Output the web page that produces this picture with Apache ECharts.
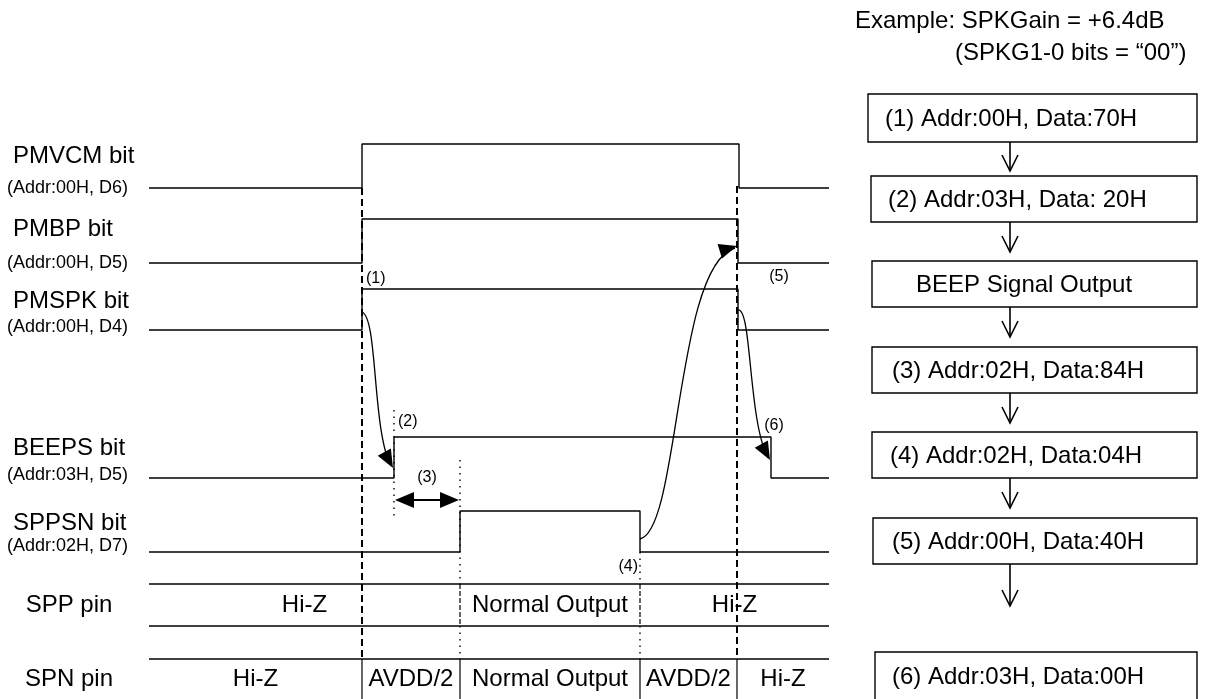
<!DOCTYPE html>
<html>
<head>
<meta charset="utf-8">
<script src="https://cdn.jsdelivr.net/npm/echarts@6/dist/echarts.min.js"></script>
<style>
  html, body { margin: 0; background: #fff; }
  #main { width: 1211px; height: 699px; }
</style>
</head>
<body>
<div id="main"></div>
<script>
// 时序图：横轴为时间（按画面读出），每个信号一行
const tBegin = 149
const tEnd = 829

// 各信号的跳变 [时刻, 电平]
const pmvcm = [[149, 0], [362, 1], [739, 0], [829, 0]]
const pmbp = [[149, 0], [362, 1], [738, 0], [829, 0]]
const pmspk = [[149, 0], [362, 1], [738, 0], [829, 0]]
const beeps = [[149, 0], [394, 1], [771, 0], [829, 0]]
const sppsn = [[149, 0], [460, 1], [640, 0], [829, 0]]

// 输出引脚状态：分段边界和状态名
const sppBounds = [149, 460, 640, 829]
const sppStates = ['Hi-Z', 'Normal Output', 'Hi-Z']
const spnBounds = [149, 362, 460, 640, 737, 829]
const spnStates = ['Hi-Z', 'AVDD/2', 'Normal Output', 'AVDD/2', 'Hi-Z']

// 时刻标记
const dashedTimes = [362, 737]
const markTimes = ['(1)', '(2)', '(3)', '(4)', '(5)', '(6)']

// 右侧流程
const steps = [
  '(1) Addr:00H, Data:70H',
  '(2) Addr:03H, Data: 20H',
  'BEEP Signal Output',
  '(3) Addr:02H, Data:84H',
  '(4) Addr:02H, Data:04H',
  '(5) Addr:00H, Data:40H',
  '(6) Addr:03H, Data:00H'
]

// ---- 版面 ----
const FONT = '"Liberation Sans", Arial, sans-serif'
const BIG = 24
const rows = [
  { name: 'PMVCM bit', sub: '(Addr:00H, D6)', low: 188, high: 144, data: pmvcm, nameY: 156 },
  { name: 'PMBP bit', sub: '(Addr:00H, D5)', low: 263, high: 219, data: pmbp, nameY: 229 },
  { name: 'PMSPK bit', sub: '(Addr:00H, D4)', low: 330, high: 289, data: pmspk, nameY: 301, subY: 327 },
  { name: 'BEEPS bit', sub: '(Addr:03H, D5)', low: 478, high: 437, data: beeps, nameY: 448, subY: 475 },
  { name: 'SPPSN bit', sub: '(Addr:02H, D7)', low: 552, high: 511, data: sppsn, nameY: 523, subY: 546 }
]
const spp = { top: 584, bottom: 626 }
const spn = { top: 659, bottom: 699 }

const black = '#000'
const lineW = 1.4

const series = []

// 波形
rows.forEach(r => {
  series.push({
    type: 'line',
    step: 'end',
    symbol: 'none',
    silent: true,
    lineStyle: { color: black, width: lineW },
    data: r.data.map(([t, v]) => [t, v ? r.high : r.low])
  })
})

function seg(points, style, z) {
  series.push({
    type: 'line',
    symbol: 'none',
    silent: true,
    z: z || 2,
    lineStyle: Object.assign({ color: black, width: lineW }, style),
    data: points
  })
}

// SPP / SPN 总线行
seg([[tBegin, spp.top], [tEnd, spp.top]])
seg([[tBegin, spp.bottom], [tEnd, spp.bottom]])
seg([[tBegin, spn.top], [tEnd, spn.top]])
sppBounds.slice(1, -1).forEach(t => seg([[t, spp.top], [t, spp.bottom]], { type: [5, 2], width: 1.2 }))
spnBounds.slice(1, -1).forEach(t => seg([[t, spn.top], [t, spn.bottom]], { width: 1.2 }))

// 粗虚线
seg([[dashedTimes[0], 188], [dashedTimes[0], spn.top]], { type: [7, 4], width: 2 }, 3)
seg([[dashedTimes[1], 186], [dashedTimes[1], spn.top]], { type: [7, 4], width: 2 }, 3)

// 点线
const dotted = { type: [1.5, 5], width: 1.4 }
seg([[beeps[1][0], 410], [beeps[1][0], 520]], dotted)
seg([[sppsn[1][0], 460], [sppsn[1][0], spp.top]], dotted)
seg([[sppsn[1][0], spp.bottom], [sppsn[1][0], spn.top]], dotted)
seg([[sppsn[2][0], 552], [sppsn[2][0], spp.top]], dotted)
seg([[sppsn[2][0], spp.bottom], [sppsn[2][0], spn.top]], dotted)

// 状态文字
function stateLabels(bounds, states, y) {
  return states.map((s, i) => [(bounds[i] + bounds[i + 1]) / 2, y, s])
}
series.push({
  type: 'scatter',
  symbolSize: 0,
  silent: true,
  z: 6,
  itemStyle: { opacity: 1 },
  label: {
    show: true,
    position: 'inside',
    formatter: p => p.value[2],
    color: black,
    opacity: 1,
    fontSize: BIG,
    fontFamily: FONT
  },
  data: stateLabels(sppBounds, sppStates, 605).concat(stateLabels(spnBounds, spnStates, 679))
})

// 因果箭头（三次贝塞尔）
const curves = [
  [[362, 312], [378, 318], [372, 430], [391, 466]],
  [[640, 539], [680, 530], [675, 265], [735, 248]],
  [[738, 310], [752, 308], [748, 420], [768, 458]]
]
function head(tip, from, len, hw) {
  const dx = tip[0] - from[0]
  const dy = tip[1] - from[1]
  const d = Math.hypot(dx, dy)
  const ux = dx / d, uy = dy / d
  const bx = tip[0] - ux * len, by = tip[1] - uy * len
  return [tip, [bx - uy * hw, by + ux * hw], [bx + uy * hw, by - ux * hw]]
}
series.push({
  type: 'custom',
  silent: true,
  z: 4,
  data: curves.map((c, i) => i),
  renderItem: (params, api) => {
    const [p0, p1, p2, p3] = curves[params.dataIndex].map(p => api.coord(p))
    return {
      type: 'group',
      children: [
        {
          type: 'bezierCurve',
          shape: { x1: p0[0], y1: p0[1], cpx1: p1[0], cpy1: p1[1], cpx2: p2[0], cpy2: p2[1], x2: p3[0], y2: p3[1] },
          style: { stroke: black, fill: null, lineWidth: 1.3 }
        },
        {
          type: 'polygon',
          shape: { points: head([p3[0] + 2, p3[1] + 2 * Math.sign(p3[1] - p2[1])], p2, 18, 7.5) },
          style: { fill: black }
        }
      ]
    }
  }
})

// (3) 双向箭头
series.push({
  type: 'custom',
  silent: true,
  z: 4,
  data: [[beeps[1][0], sppsn[1][0], 500]],
  renderItem: (params, api) => {
    const a = api.coord([api.value(0), api.value(2)])
    const b = api.coord([api.value(1), api.value(2)])
    return {
      type: 'group',
      children: [
        { type: 'line', shape: { x1: a[0] + 10, y1: a[1], x2: b[0] - 10, y2: b[1] }, style: { stroke: black, lineWidth: 2 } },
        { type: 'polygon', shape: { points: head([a[0] + 1, a[1]], [b[0], b[1]], 19, 8) }, style: { fill: black } },
        { type: 'polygon', shape: { points: head([b[0] - 1, b[1]], [a[0], a[1]], 19, 8) }, style: { fill: black } }
      ]
    }
  }
})

// ---- 文字与流程图 ----
function text(x, y, s, size, align) {
  return {
    type: 'text',
    x: x,
    y: y,
    z: 10,
    silent: true,
    style: {
      text: s,
      font: size + 'px ' + FONT,
      fill: black,
      textAlign: align || 'left',
      align: align || 'left',
      textVerticalAlign: 'middle',
      verticalAlign: 'middle'
    }
  }
}

const graphic = []
rows.forEach(r => {
  graphic.push(text(13, r.nameY, r.name, BIG))
  graphic.push(text(7, r.subY || r.low, r.sub, 18))
})
graphic.push(text(69, 605, 'SPP pin', BIG, 'center'))
graphic.push(text(69, 679, 'SPN pin', BIG, 'center'))

const marks = [[366, 279], [398, 422], [427, 478], [638, 567], [779, 277], [774, 426]]
marks.forEach((m, i) => graphic.push(text(m[0], m[1], markTimes[i], 16, i === 3 ? 'right' : (i === 2 || i > 3 ? 'center' : 'left'))))

graphic.push(text(855, 21, 'Example: SPKGain = +6.4dB', BIG))
graphic.push(text(955, 53, '(SPKG1-0 bits = \u201c00\u201d)', BIG))

const boxes = [
  { x: 868, y: 94, w: 329, h: 48, tx: 885 },
  { x: 871, y: 176, w: 326, h: 46, tx: 888 },
  { x: 872, y: 261, w: 325, h: 46, tx: 916 },
  { x: 872, y: 347, w: 325, h: 46, tx: 892 },
  { x: 872, y: 432, w: 325, h: 46, tx: 890 },
  { x: 873, y: 518, w: 324, h: 46, tx: 892 },
  { x: 875, y: 652, w: 322, h: 48, tx: 892 }
]
const arrowX = 1010
const arrowLen = 30
boxes.forEach((b, i) => {
  graphic.push({
    type: 'rect',
    silent: true,
    shape: { x: b.x, y: b.y, width: b.w, height: b.h },
    style: { fill: '#fff', stroke: black, lineWidth: 1.4 }
  })
  graphic.push(text(b.tx, b.y + b.h / 2 + 1, steps[i], BIG))
  if (i < boxes.length - 1) {
    const y1 = b.y + b.h
    const y2 = Math.min(boxes[i + 1].y - 5, y1 + arrowLen + (i === 5 ? 12 : 0))
    graphic.push({
      type: 'polyline',
      silent: true,
      shape: { points: [[arrowX, y1], [arrowX, y2]] },
      style: { stroke: black, lineWidth: 1.6 }
    })
    graphic.push({
      type: 'polyline',
      silent: true,
      shape: { points: [[arrowX - 8, y2 - 16], [arrowX, y2], [arrowX + 8, y2 - 16]] },
      style: { stroke: black, lineWidth: 1.6, fill: null }
    })
  }
})

const myChart = echarts.init(document.getElementById('main'))
myChart.setOption({
  backgroundColor: '#fff',
  animation: false,
  grid: { left: 0, right: 0, top: 0, bottom: 0 },
  xAxis: { type: 'value', min: 0, max: 1211, show: false },
  yAxis: { type: 'value', min: 0, max: 699, inverse: true, show: false },
  series: series,
  graphic: graphic
})
</script>
</body>
</html>
